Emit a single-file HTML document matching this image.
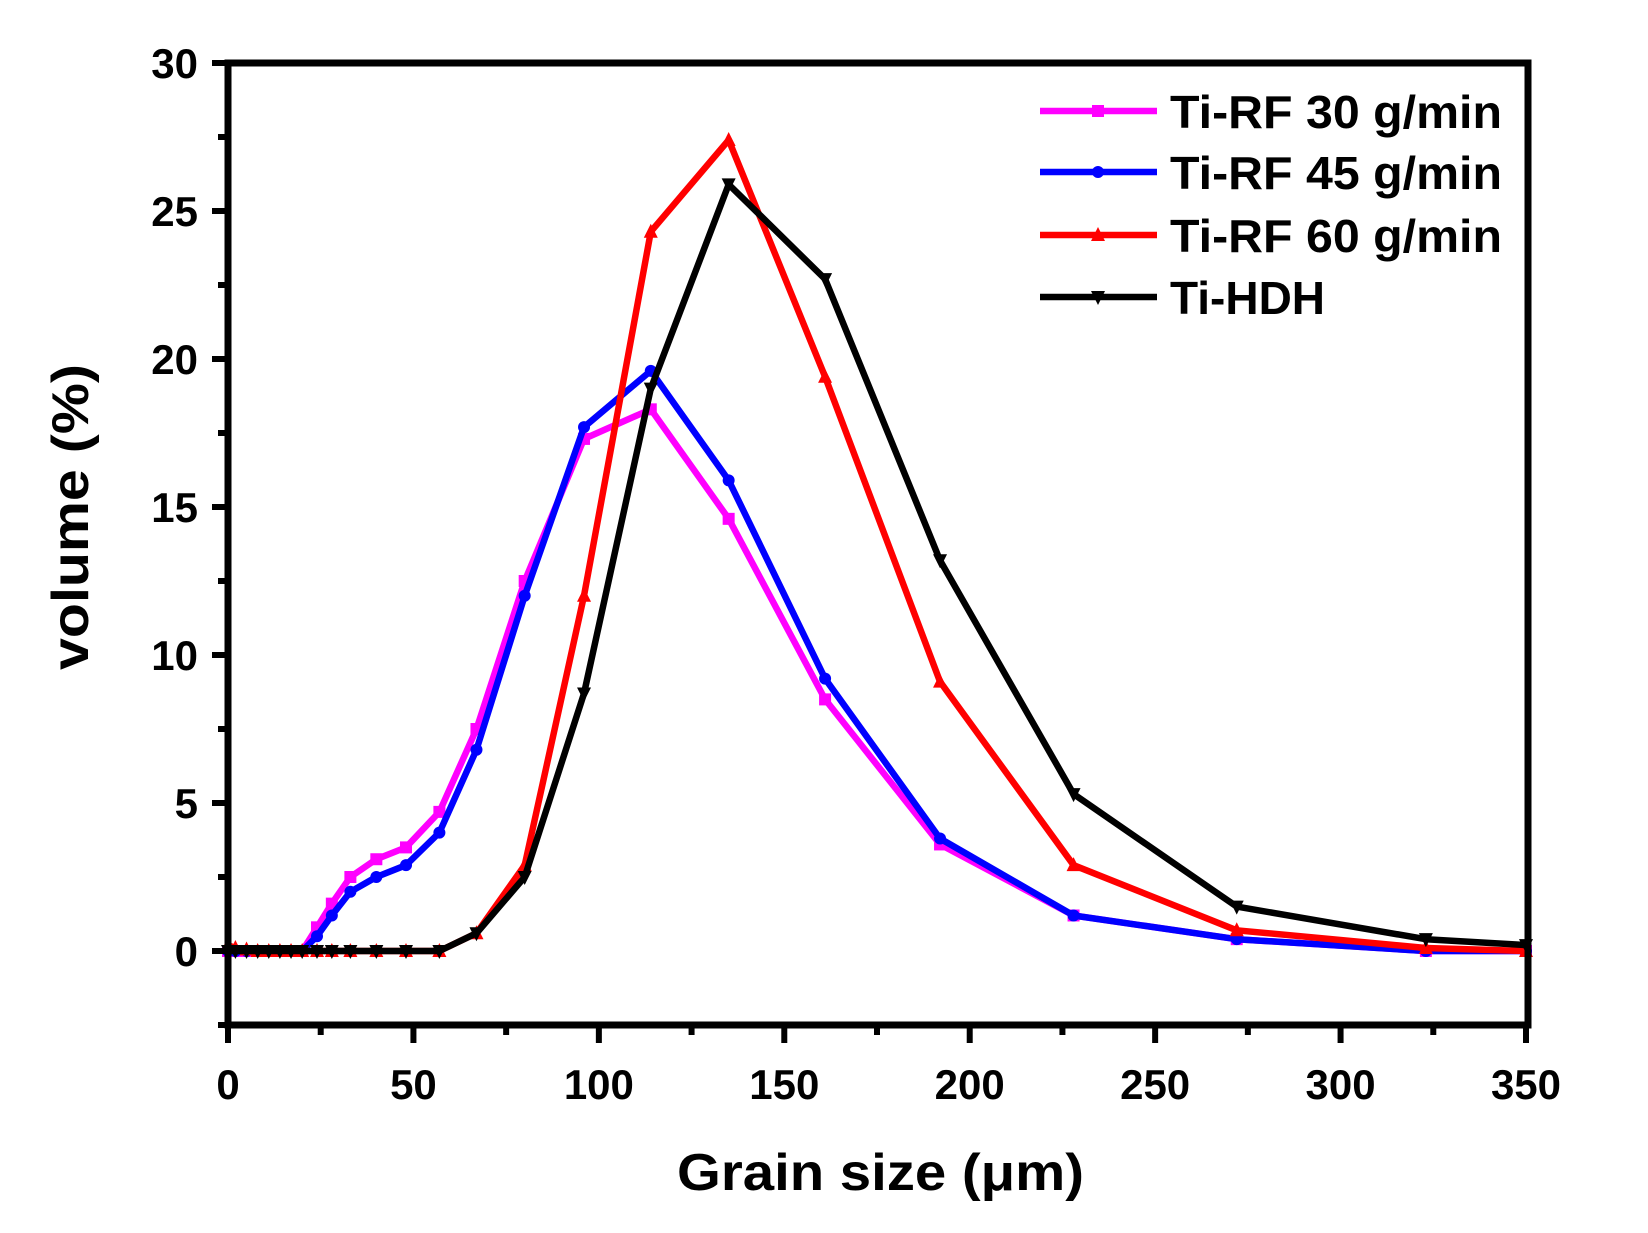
<!DOCTYPE html>
<html><head><meta charset="utf-8"><style>
html,body{margin:0;padding:0;background:#fff;}
svg{display:block;font-family:"Liberation Sans",Arial,sans-serif;font-weight:bold;}
</style></head><body>
<svg id="s" width="1648" height="1233" viewBox="0 0 1648 1233" xmlns="http://www.w3.org/2000/svg">
<rect width="1648" height="1233" fill="#fff"/>
<g id="g"></g>
</svg>
<script>
const X0=228,X1=1528,Y0=951,PY=29.6,PX=(1526-228)/350;
const fx=v=>X0+v*PX, fy=v=>Y0-v*PY;
let h='';
const T=1025, Tp=63;
const small=[0,2,5,8,11,14,17,20];
const S=[
 {c:'#ff00ff',m:'s',d:[...small.map(x=>[x,0]),[24,0.8],[28,1.6],[33,2.5],[40,3.1],[48,3.5],[57,4.7],[67,7.5],[80,12.5],[96,17.3],[114,18.3],[135,14.6],[161,8.5],[192,3.6],[228,1.2],[272,0.4],[323,0],[350,0]]},
 {c:'#0000ff',m:'c',d:[...small.map(x=>[x,0]),[24,0.5],[28,1.2],[33,2.0],[40,2.5],[48,2.9],[57,4.0],[67,6.8],[80,12.0],[96,17.7],[114,19.6],[135,15.9],[161,9.2],[192,3.8],[228,1.2],[272,0.4],[323,0],[350,0]]},
 {c:'#ff0000',m:'t',d:[[0,0.2],[2,0.1],[5,0.05],...[8,11,14,17,20,24,28,33,40,48,57].map(x=>[x,0]),[67,0.6],[80,2.9],[96,12.0],[114,24.3],[135,27.4],[161,19.4],[192,9.1],[228,2.9],[272,0.7],[323,0.1],[350,0]]},
 {c:'#000000',m:'v',d:[...[0,2,5,8,11,14,17,20,24,28,33,40,48,57].map(x=>[x,0]),[67,0.6],[80,2.5],[96,8.7],[114,19.0],[135,25.9],[161,22.7],[192,13.2],[228,5.3],[272,1.5],[323,0.4],[350,0.2]]}
];
function mk(m,x,y,c){
 if(m=='s')return `<rect x="${x-6}" y="${y-6}" width="12" height="12" fill="${c}"/>`;
 if(m=='c')return `<circle cx="${x}" cy="${y}" r="6" fill="${c}"/>`;
 if(m=='t')return `<polygon points="${x},${y-8} ${x-7},${y+6} ${x+7},${y+6}" fill="${c}"/>`;
 return `<polygon points="${x},${y+8} ${x-7},${y-6} ${x+7},${y-6}" fill="${c}"/>`;
}
for(const s of S){
 const p=s.d.map(([a,b])=>`${fx(a).toFixed(1)},${fy(b).toFixed(1)}`).join(' ');
 h+=`<polyline points="${p}" fill="none" stroke="${s.c}" stroke-width="6.5" stroke-linejoin="round"/>`;
 for(const [a,b] of s.d) h+=mk(s.m,fx(a),fy(b),s.c);
}
h+=`<rect x="${X0}" y="${Tp}" width="${X1-X0}" height="${T-Tp}" fill="none" stroke="#000" stroke-width="7"/>`;
for(let v=-2.5;v<=30.01;v+=2.5){
 const y=fy(v), maj=(Math.abs(v%5)<0.01);
 h+=`<line x1="${X0-(maj?16:10)}" y1="${y}" x2="${X0}" y2="${y}" stroke="#000" stroke-width="6"/>`;
 if(maj) h+=`<text x="${X0-30}" y="${y+15}" font-size="42" text-anchor="end">${v}</text>`;
}
for(let v=0;v<=350;v+=25){
 const x=fx(v), maj=v%50==0;
 h+=`<line x1="${x}" y1="${T}" x2="${x}" y2="${T+(maj?18:10)}" stroke="#000" stroke-width="6"/>`;
 if(maj) h+=`<text x="${x}" y="${T+74}" font-size="42" text-anchor="middle">${v}</text>`;
}
h+=`<text x="677" y="1190" font-size="52" textLength="407" lengthAdjust="spacingAndGlyphs">Grain size (μm)</text>`;
h+=`<text transform="translate(88,670) rotate(-90)" font-size="52" textLength="306" lengthAdjust="spacingAndGlyphs">volume (%)</text>`;
const L=[['Ti-RF 30 g/min',111,332],['Ti-RF 45 g/min',172,332],['Ti-RF 60 g/min',235,332],['Ti-HDH',297,155]];
L.forEach(([t,y,w],i)=>{
 const c=S[i].c;
 h+=`<line x1="1040" y1="${y}" x2="1157" y2="${y}" stroke="${c}" stroke-width="6.5"/>`;
 h+=mk(S[i].m,1098,y,c);
 h+=`<text x="1170" y="${y+17}" font-size="46" textLength="${w}" lengthAdjust="spacingAndGlyphs">${t}</text>`;
});
document.getElementById('g').innerHTML=h;
</script>
</body></html>
